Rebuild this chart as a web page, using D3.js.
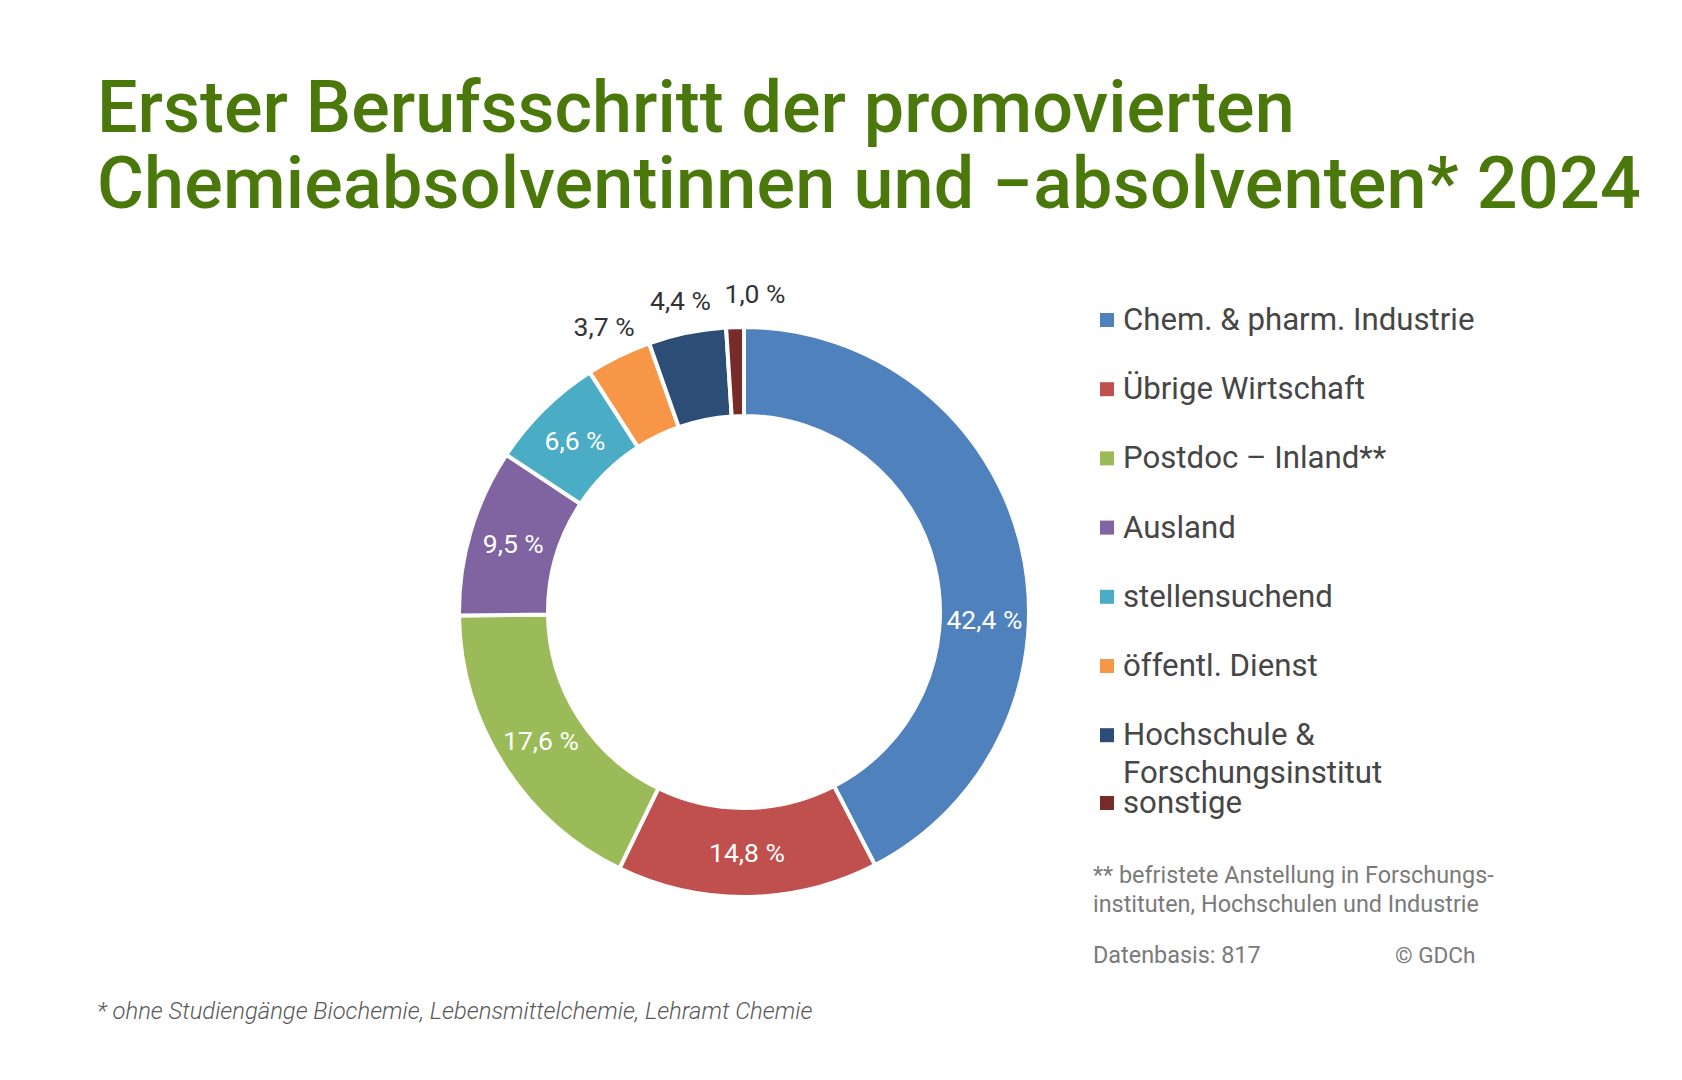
<!DOCTYPE html>
<html><head><meta charset="utf-8">
<script src="https://cdn.jsdelivr.net/npm/d3@7/dist/d3.min.js"></script>
<style>
html,body{margin:0;padding:0;background:#fff;}
svg{display:block;font-family:Roboto,"Noto Sans",sans-serif;}
</style></head>
<body>
<svg id="chart" width="1682" height="1080"></svg>
<script>
const titleLines = ["Erster Berufsschritt der promovierten", "Chemieabsolventinnen und \u2212absolventen* 2024"];
const categories = ["Chem. & pharm. Industrie", "Übrige Wirtschaft", "Postdoc \u2013 Inland**", "Ausland", "stellensuchend", "öffentl. Dienst", "Hochschule & Forschungsinstitut", "sonstige"];
const legendLines = [["Chem. & pharm. Industrie"], ["Übrige Wirtschaft"], ["Postdoc \u2013 Inland**"], ["Ausland"], ["stellensuchend"], ["öffentl. Dienst"], ["Hochschule &", "Forschungsinstitut"], ["sonstige"]];
const values = [42.4, 14.8, 17.6, 9.5, 6.6, 3.7, 4.4, 1.0];
const labels = ["42,4 %", "14,8 %", "17,6 %", "9,5 %", "6,6 %", "3,7 %", "4,4 %", "1,0 %"];
const labelInside = [true, true, true, true, true, false, false, false];
const labelAngleOverride = [25.5, null, null, null, null, null, null, 100.55]; // percent of circle
const colors = ["#4F81BD", "#C0504D", "#9BBB59", "#8064A2", "#4BACC6", "#F79646", "#2C4D75", "#772C2A"];
const footnoteLines = ["** befristete Anstellung in Forschungs-", "instituten, Hochschulen und Industrie"];
const sourceText = "Datenbasis: 817";
const copyText = "\u00A9 GDCh";
const bottomNote = "* ohne Studiengänge Biochemie, Lebensmittelchemie, Lehramt Chemie";

const svg = d3.select("#chart");

// Title
const titleG = svg.append("g");
const tBase = [132, 208];
titleLines.forEach((t, i) => {
  titleG.append("text").attr("x", 97).attr("y", tBase[i])
    .attr("font-size", 72).attr("font-weight", 500).attr("fill", "#4A780B").text(t);
});
const tNodes = titleG.selectAll("text").nodes();
const w1 = tNodes[0].getComputedTextLength();
const fs = 72 * 1198 / w1;
titleG.selectAll("text").attr("font-size", fs);
const w2 = tNodes[1].getComputedTextLength();
const n2 = titleLines[1].length;
d3.select(tNodes[1]).attr("letter-spacing", (1544 - w2) / n2);

// Donut
const cx = 744, cy = 612, R = 285, r0 = 196;
const pie = d3.pie().sort(null).value(d => d)(values);
const arc = d3.arc().innerRadius(r0).outerRadius(R);
const g = svg.append("g").attr("transform", `translate(${cx},${cy})`);
g.selectAll("path").data(pie).join("path")
  .attr("d", arc).attr("fill", (d, i) => colors[i])
  .attr("stroke", "#fff").attr("stroke-width", 4).attr("stroke-linejoin", "miter");

const pctScale = d3.scaleLinear().domain([0, 100]).range([0, 2 * Math.PI]);
g.selectAll("text.lbl").data(pie).join("text")
  .attr("class", "lbl")
  .attr("transform", (d, i) => {
    const a = labelAngleOverride[i] != null ? pctScale(labelAngleOverride[i]) : (d.startAngle + d.endAngle) / 2;
    const rr = labelInside[i] ? (R + r0) / 2 : R + 33;
    return `translate(${rr * Math.sin(a)},${-rr * Math.cos(a)})`;
  })
  .attr("text-anchor", "middle").attr("dy", "0.35em")
  .attr("font-size", 26.5)
  .attr("fill", (d, i) => labelInside[i] ? "#fff" : "#333")
  .text((d, i) => labels[i]);

// Legend
const legendY = d3.scaleLinear().domain([0, 1]).range([330, 399.2]);
const rowBase = [0, 1, 2, 3, 4, 5, 6, 7].map(i => i < 7 ? legendY(i) : 813);
const lg = svg.append("g");
legendLines.forEach((lines, i) => {
  const y = rowBase[i];
  lg.append("rect").attr("x", 1100).attr("y", y - 17).attr("width", 14).attr("height", 14).attr("fill", colors[i]);
  lines.forEach((ln, j) => {
    lg.append("text").attr("x", 1123).attr("y", y + j * 37.5).attr("font-size", 31.2).attr("fill", "#464646").text(ln);
  });
});

// Footnotes
footnoteLines.forEach((t, i) => {
  svg.append("text").attr("x", 1093).attr("y", 883 + i * 29).attr("font-size", 23.4).attr("fill", "#7a7a7a").text(t);
});
svg.append("text").attr("x", 1093).attr("y", 963).attr("font-size", 23.4).attr("fill", "#7a7a7a").text(sourceText);
svg.append("text").attr("x", 1395).attr("y", 963).attr("font-size", 22.5).attr("fill", "#7a7a7a").text(copyText);

const bn = svg.append("text").attr("x", 97).attr("y", 1019).attr("font-size", 23)
  .attr("font-style", "italic").attr("font-weight", 300).attr("fill", "#595959").text(bottomNote);
const bw = bn.node().getComputedTextLength();
bn.attr("font-size", 23 * 716 / bw);
</script>
</body></html>
